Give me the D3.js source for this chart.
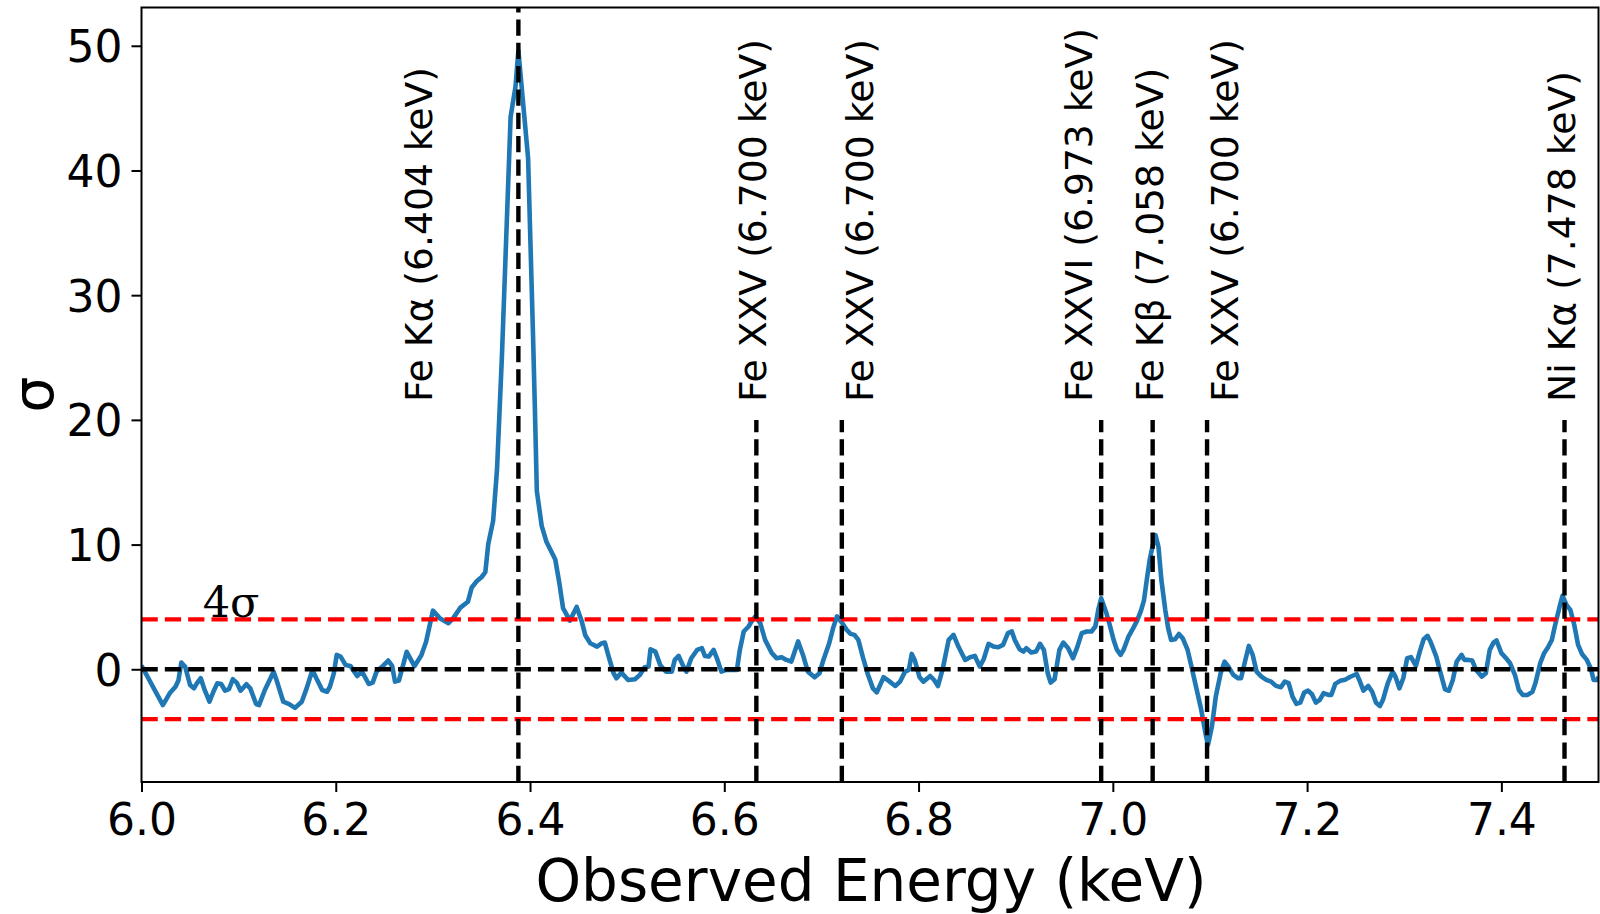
<!DOCTYPE html>
<html>
<head>
<meta charset="utf-8">
<script src="https://cdn.jsdelivr.net/npm/d3@7"></script>
<style>
  html, body { margin: 0; padding: 0; background: #fff; }
  svg { display: block; }
</style>
</head>
<body>
<svg id="chart" width="1600" height="914"></svg>
<script>
// ---- Data ----
const energy = [
  6.000, 6.022, 6.029, 6.035, 6.038, 6.041, 6.045, 6.050, 6.054, 6.057,
  6.061, 6.065, 6.070, 6.074, 6.078, 6.082, 6.086, 6.090, 6.094, 6.098,
  6.102, 6.108, 6.112, 6.118, 6.121, 6.127, 6.136, 6.139, 6.146, 6.152,
  6.158, 6.165, 6.170, 6.176, 6.180, 6.186, 6.191, 6.194, 6.198, 6.201,
  6.205, 6.210, 6.215, 6.222, 6.227, 6.234, 6.238, 6.242, 6.247, 6.254,
  6.258, 6.261, 6.265, 6.273, 6.281, 6.288, 6.293, 6.300, 6.307, 6.316,
  6.321, 6.328, 6.336, 6.340, 6.345, 6.350, 6.354, 6.357, 6.362, 6.366,
  6.371, 6.376, 6.380, 6.385, 6.388, 6.398, 6.403, 6.405, 6.407, 6.412,
  6.417, 6.426, 6.430, 6.434, 6.441, 6.448, 6.453, 6.457, 6.462, 6.469,
  6.474, 6.477, 6.481, 6.486, 6.489, 6.494, 6.501, 6.508, 6.513, 6.518,
  6.522, 6.524, 6.529, 6.534, 6.540, 6.546, 6.549, 6.553, 6.558, 6.561,
  6.566, 6.572, 6.577, 6.580, 6.584, 6.589, 6.593, 6.597, 6.602, 6.613,
  6.616, 6.620, 6.625, 6.628, 6.632, 6.637, 6.642, 6.649, 6.654, 6.659,
  6.664, 6.669, 6.676, 6.681, 6.686, 6.693, 6.698, 6.702, 6.708, 6.712,
  6.716, 6.721, 6.726, 6.730, 6.734, 6.738, 6.743, 6.748, 6.753, 6.757,
  6.764, 6.769, 6.776, 6.781, 6.786, 6.790, 6.793, 6.796, 6.801, 6.805,
  6.812, 6.816, 6.820, 6.825, 6.831, 6.836, 6.841, 6.848, 6.853, 6.858,
  6.863, 6.867, 6.872, 6.877, 6.882, 6.887, 6.892, 6.896, 6.899, 6.904,
  6.908, 6.911, 6.916, 6.921, 6.925, 6.929, 6.933, 6.936, 6.940, 6.945,
  6.949, 6.954, 6.959, 6.963, 6.968, 6.973, 6.978, 6.982, 6.985, 6.988,
  6.993, 6.997, 7.001, 7.004, 7.008, 7.011, 7.016, 7.021, 7.025, 7.029,
  7.032, 7.035, 7.038, 7.041, 7.044, 7.047, 7.050, 7.054, 7.057, 7.060,
  7.064, 7.068, 7.072, 7.077, 7.081, 7.086, 7.091, 7.096, 7.098, 7.102,
  7.106, 7.111, 7.115, 7.119, 7.124, 7.129, 7.132, 7.136, 7.140, 7.144,
  7.148, 7.153, 7.158, 7.163, 7.168, 7.173, 7.177, 7.181, 7.185, 7.189,
  7.193, 7.197, 7.201, 7.205, 7.209, 7.213, 7.217, 7.222, 7.225, 7.229,
  7.234, 7.239, 7.244, 7.251, 7.254, 7.258, 7.263, 7.267, 7.271, 7.275,
  7.278, 7.283, 7.288, 7.291, 7.295, 7.299, 7.303, 7.307, 7.312, 7.316,
  7.320, 7.324, 7.327, 7.333, 7.337, 7.342, 7.346, 7.350, 7.354, 7.359,
  7.362, 7.366, 7.370, 7.374, 7.380, 7.384, 7.388, 7.392, 7.395, 7.400,
  7.405, 7.409, 7.414, 7.418, 7.422, 7.427, 7.432, 7.435, 7.440, 7.444,
  7.448, 7.452, 7.455, 7.460, 7.463, 7.467, 7.471, 7.475, 7.479, 7.483,
  7.488, 7.492, 7.495, 7.499, 7.500
];
const sigma = [
   0.30, -2.87, -1.93, -1.40, -0.90,  0.54,  0.20, -1.26, -1.53, -1.13,
  -0.72, -1.66, -2.60, -1.80, -1.13, -1.18, -1.72, -1.60, -0.80, -1.07,
  -1.72, -1.20, -1.53, -2.79, -2.87, -1.66, -0.19, -0.86, -2.60, -2.79,
  -3.10, -2.60, -1.53, -0.05, -0.72, -1.66, -1.80, -1.40, -0.32,  1.15,
   1.02,  0.35,  0.27, -0.54, -0.19, -1.18, -1.07, -0.19,  0.16,  0.70,
   0.27, -0.99, -0.91,  1.40,  0.25,  1.10,  2.20,  4.70,  4.10,  3.69,
   4.10,  4.92,  5.41,  6.56,  7.05,  7.38,  7.79, 10.04, 11.90, 16.00,
  25.00, 35.70, 44.30, 46.70, 49.60, 41.00, 27.00, 20.90, 14.30, 11.50,
  10.20,  8.80,  7.00,  4.90,  3.90,  5.00,  3.90,  2.70,  2.09,  1.82,
   2.09,  2.14,  1.02, -0.32, -0.72, -0.27, -0.86, -0.80, -0.46,  0.16,
   0.21,  1.61,  1.42,  0.35, -0.19, -0.19,  0.75,  1.07,  0.21, -0.19,
   0.88,  1.55,  1.69,  1.07,  1.02,  1.55,  0.75, -0.19, -0.05, -0.05,
   1.55,  3.03,  3.43,  3.83,  4.24,  3.70,  2.36,  1.29,  0.88,  0.97,
   0.75,  0.62,  2.23,  1.15, -0.19, -0.64, -0.32,  0.75,  2.09,  3.30,
   4.24,  3.75,  3.16,  2.84,  2.76,  2.36,  0.88, -0.46, -1.53, -1.85,
  -0.64, -0.91, -1.34, -0.99, -0.19, -0.05,  1.23,  0.75, -0.64, -0.99,
  -0.54, -0.86, -1.34,  0.08,  2.36,  2.76,  1.82,  0.75,  0.97,  1.07,
   0.21,  0.80,  2.04,  1.82,  1.77,  1.96,  2.90,  3.03,  2.36,  1.61,
   1.42,  1.69,  1.34,  1.42,  2.04,  1.55, -0.32, -1.07, -0.80,  1.55,
   2.14,  1.69,  0.88,  1.69,  2.90,  3.03,  3.03,  3.43,  4.77,  5.70,
   4.60,  3.50,  2.30,  1.60,  1.15,  1.55,  2.60,  3.30,  3.90,  4.70,
   5.50,  7.20,  8.80,  9.90, 10.75,  9.80,  7.15,  4.75,  3.28,  2.35,
   2.40,  2.83,  2.48,  1.55,  0.21, -1.52, -3.25, -5.39, -6.05, -4.59,
  -2.19, -0.32,  0.61,  0.21, -0.45, -0.72, -0.72,  0.61,  1.87,  1.15,
  -0.19, -0.59, -0.85, -0.99, -1.33, -1.44, -0.99, -1.12, -2.19, -2.77,
  -2.67, -1.87, -1.71, -2.00, -2.67, -2.45, -1.92, -2.05, -2.05, -1.17,
  -0.93, -0.85, -0.62, -0.38, -0.90, -1.72, -1.34, -1.80, -2.68, -2.95,
  -2.47, -1.13, -0.19, -0.60, -1.53, -0.72,  0.88,  0.97,  0.27,  1.42,
   2.41,  2.68,  2.23,  1.02, -0.19, -1.61, -1.72, -0.86,  0.62,  1.15,
   0.75,  0.75,  0.70, -0.05, -0.59, -0.32,  1.55,  2.14,  2.31,  1.29,
   0.88,  0.48, -0.46, -1.66, -2.06, -2.06, -1.80, -1.13,  0.48,  1.29,
   1.77,  2.36,  3.43,  5.04,  5.90,  5.17,  4.77,  3.57,  1.96,  1.23,
   0.75,  0.08, -0.86, -0.86, -0.60
];

// Emission line markers (observed energies) and their labels
const lineEnergies   = [6.388, 6.633, 6.721, 6.988, 7.041, 7.097, 7.465];
const lineTopSigma   = [60, 20, 20, 20, 20, 20, 20];
const lineLabels     = ["Fe Kα (6.404 keV)", "Fe XXV (6.700 keV)", "Fe XXV (6.700 keV)",
                        "Fe XXVI (6.973 keV)", "Fe Kβ (7.058 keV)", "Fe XXV (6.700 keV)",
                        "Ni Kα (7.478 keV)"];
const labelEnergies  = [6.285, 6.629, 6.739, 6.964, 7.038, 7.115, 7.462];
const labelSigma     = 21.43;

const thresholdLevels = [4, -4];
const zeroLevel = 0;
const thresholdText = "4σ";
const thresholdTextPos = [6.063, 4.2];

const xTicks = [6.0, 6.2, 6.4, 6.6, 6.8, 7.0, 7.2, 7.4];
const yTicks = [0, 10, 20, 30, 40, 50];
const xDomain = [6.0, 7.5];
const yDomain = [-9.04, 53.07];
const xLabel = "Observed Energy (keV)";
const yLabel = "σ";

// ---- Layout ----
const W = 1600, H = 914;
const plot = { left: 141.5, right: 1598.5, top: 7.5, bottom: 782 };
const FONT = "'DejaVu Sans', sans-serif";
const LW = 4.4;
const DASH = `${3.7 * LW},${1.6 * LW}`;

const svg = d3.select("#chart");
const x = d3.scaleLinear().domain(xDomain).range([plot.left, plot.right]);
const y = d3.scaleLinear().domain(yDomain).range([plot.bottom, plot.top]);

svg.append("defs").append("clipPath").attr("id", "clip")
  .append("rect")
  .attr("x", plot.left).attr("y", plot.top)
  .attr("width", plot.right - plot.left).attr("height", plot.bottom - plot.top);

const gPlot = svg.append("g").attr("clip-path", "url(#clip)");

// data curve
const pts = energy.map((e, i) => [e, sigma[i]]);
gPlot.append("path")
  .datum(pts)
  .attr("fill", "none")
  .attr("stroke", "#1f77b4")
  .attr("stroke-width", 4.6)
  .attr("stroke-linejoin", "round")
  .attr("stroke-linecap", "butt")
  .attr("d", d3.line().x(d => x(d[0])).y(d => y(d[1])));

// threshold lines
gPlot.selectAll("line.thr").data(thresholdLevels).join("line")
  .attr("class", "thr")
  .attr("x1", x(xDomain[0])).attr("x2", x(xDomain[1]))
  .attr("y1", d => y(d)).attr("y2", d => y(d))
  .attr("stroke", "#ff0000").attr("stroke-width", LW)
  .attr("stroke-dasharray", DASH);

gPlot.append("line")
  .attr("x1", x(xDomain[0])).attr("x2", x(xDomain[1]))
  .attr("y1", y(zeroLevel)).attr("y2", y(zeroLevel))
  .attr("stroke", "#000").attr("stroke-width", LW)
  .attr("stroke-dasharray", DASH);

// vertical line markers (drawn from bottom upwards)
gPlot.selectAll("line.vl").data(lineEnergies).join("line")
  .attr("class", "vl")
  .attr("x1", d => x(d)).attr("x2", d => x(d))
  .attr("y1", y(yDomain[0]))
  .attr("y2", (d, i) => y(Math.min(lineTopSigma[i], yDomain[1])))
  .attr("stroke", "#000").attr("stroke-width", LW)
  .attr("stroke-dasharray", DASH);

// line labels
svg.selectAll("text.lbl").data(lineLabels).join("text")
  .attr("class", "lbl")
  .attr("transform", (d, i) => `translate(${x(labelEnergies[i])},${y(labelSigma)}) rotate(-90)`)
  .attr("dy", "0.3645em")
  .attr("text-anchor", "start")
  .attr("font-family", FONT)
  .attr("font-size", 37.7)
  .attr("fill", "#000")
  .text(d => d);

// 4σ annotation
svg.append("text")
  .attr("x", x(thresholdTextPos[0]))
  .attr("y", y(thresholdTextPos[1]))
  .attr("font-family", "'DejaVu Serif', serif")
  .attr("font-size", 43)
  .attr("fill", "#000")
  .text(thresholdText);

// axes
const xAxis = d3.axisBottom(x).tickValues(xTicks).tickFormat(d3.format(".1f"))
  .tickSize(10).tickPadding(10);
const yAxis = d3.axisLeft(y).tickValues(yTicks).tickFormat(d3.format("d"))
  .tickSize(10).tickPadding(9);

const gx = svg.append("g").attr("transform", `translate(0,${plot.bottom})`).call(xAxis);
const gy = svg.append("g").attr("transform", `translate(${plot.left},0)`).call(yAxis);
[gx, gy].forEach(g => {
  g.select(".domain").remove();
  g.selectAll(".tick line").attr("stroke", "#000").attr("stroke-width", 2);
  g.selectAll(".tick text").attr("font-family", FONT).attr("font-size", 44).attr("fill", "#000");
});
gx.selectAll(".tick text").attr("dy", "0.76em");
gy.selectAll(".tick text").attr("dy", "0.36em");

// frame
svg.append("rect")
  .attr("x", plot.left).attr("y", plot.top)
  .attr("width", plot.right - plot.left).attr("height", plot.bottom - plot.top)
  .attr("fill", "none").attr("stroke", "#000").attr("stroke-width", 2);

// axis labels
svg.append("text")
  .attr("x", 871).attr("y", 901)
  .attr("text-anchor", "middle")
  .attr("font-family", FONT).attr("font-size", 58).attr("fill", "#000")
  .text(xLabel);

svg.append("text")
  .attr("transform", `translate(53,${(plot.top + plot.bottom) / 2}) rotate(-90)`)
  .attr("text-anchor", "middle")
  .attr("font-family", FONT).attr("font-size", 57).attr("fill", "#000")
  .text(yLabel);
</script>
</body>
</html>
